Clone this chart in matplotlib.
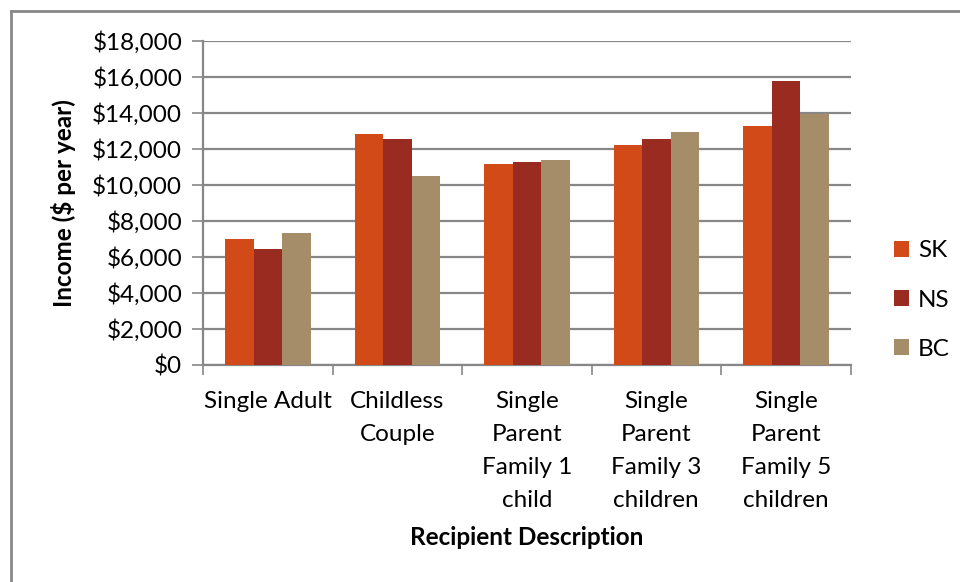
import numpy as np
import matplotlib.pyplot as plt
from matplotlib.lines import Line2D

plt.rcParams["font.family"] = ["Lato", "DejaVu Sans"]

categories = [
    "Single Adult",
    "Childless\nCouple",
    "Single\nParent\nFamily 1\nchild",
    "Single\nParent\nFamily 3\nchildren",
    "Single\nParent\nFamily 5\nchildren",
]
sk = [6980, 12830, 11170, 12200, 13260]
ns = [6430, 12570, 11300, 12570, 15800]
bc = [7320, 10520, 11370, 12930, 13960]
series = [("SK", sk, "#D24A17"), ("NS", ns, "#9A2B20"), ("BC", bc, "#A58D6A")]

fs = 17.5
fig = plt.figure(figsize=(9.6, 5.82), dpi=100)
ax = fig.add_axes([0.2115, 0.3729, 0.6745, 0.5567])

x = np.arange(len(categories))
width = 0.22
for i, (name, vals, color) in enumerate(series):
    ax.bar(x + (i - 1) * width, vals, width, color=color, label=name,
           edgecolor="none", zorder=3)

grid_color = "#878787"
ax.set_xlim(-0.5, len(categories) - 0.5)
ax.set_ylim(0, 18000)
ax.set_yticks(np.arange(0, 18001, 2000))
ax.set_yticklabels([f"${v:,.0f}" for v in np.arange(0, 18001, 2000)])
ax.yaxis.grid(True, color=grid_color, linewidth=1.6, zorder=0)

ax.set_xticks(np.arange(-0.5, len(categories), 1.0))
ax.set_xticklabels([])
ax.set_xticks(x, minor=True)
ax.set_xticklabels(categories, minor=True, fontsize=fs, linespacing=1.71,
                   va="top")
ax.tick_params(axis="x", which="minor", length=0, pad=18.5)
ax.tick_params(axis="x", which="major", length=7, width=1.2, color=grid_color)
ax.tick_params(axis="y", length=8, width=1.2, color=grid_color,
               labelsize=fs, pad=7)

for side in ["top", "right"]:
    ax.spines[side].set_visible(False)
for side in ["left", "bottom"]:
    ax.spines[side].set_color(grid_color)
    ax.spines[side].set_linewidth(1.6)

ax.set_ylabel("Income ($ per year)", fontsize=fs, fontweight="bold",
              labelpad=12)
fig.text(0.549, 0.077, "Recipient Description", fontsize=fs,
         fontweight="bold", ha="center", va="center")

leg = ax.legend(loc="center left", bbox_to_anchor=(1.0, 0.2), frameon=False,
                fontsize=fs, handlelength=0.62, handleheight=0.62,
                labelspacing=1.16, handletextpad=0.35, borderaxespad=1.4)

# outer chart border (top and left edges show)
fig.add_artist(Line2D([0.0115, 0.0115], [0.0, 0.981], color="#888888",
                      linewidth=2, transform=fig.transFigure))
fig.add_artist(Line2D([0.0115, 1.0], [0.981, 0.981], color="#888888",
                      linewidth=2, transform=fig.transFigure))

fig.savefig("out.png", dpi=100)
